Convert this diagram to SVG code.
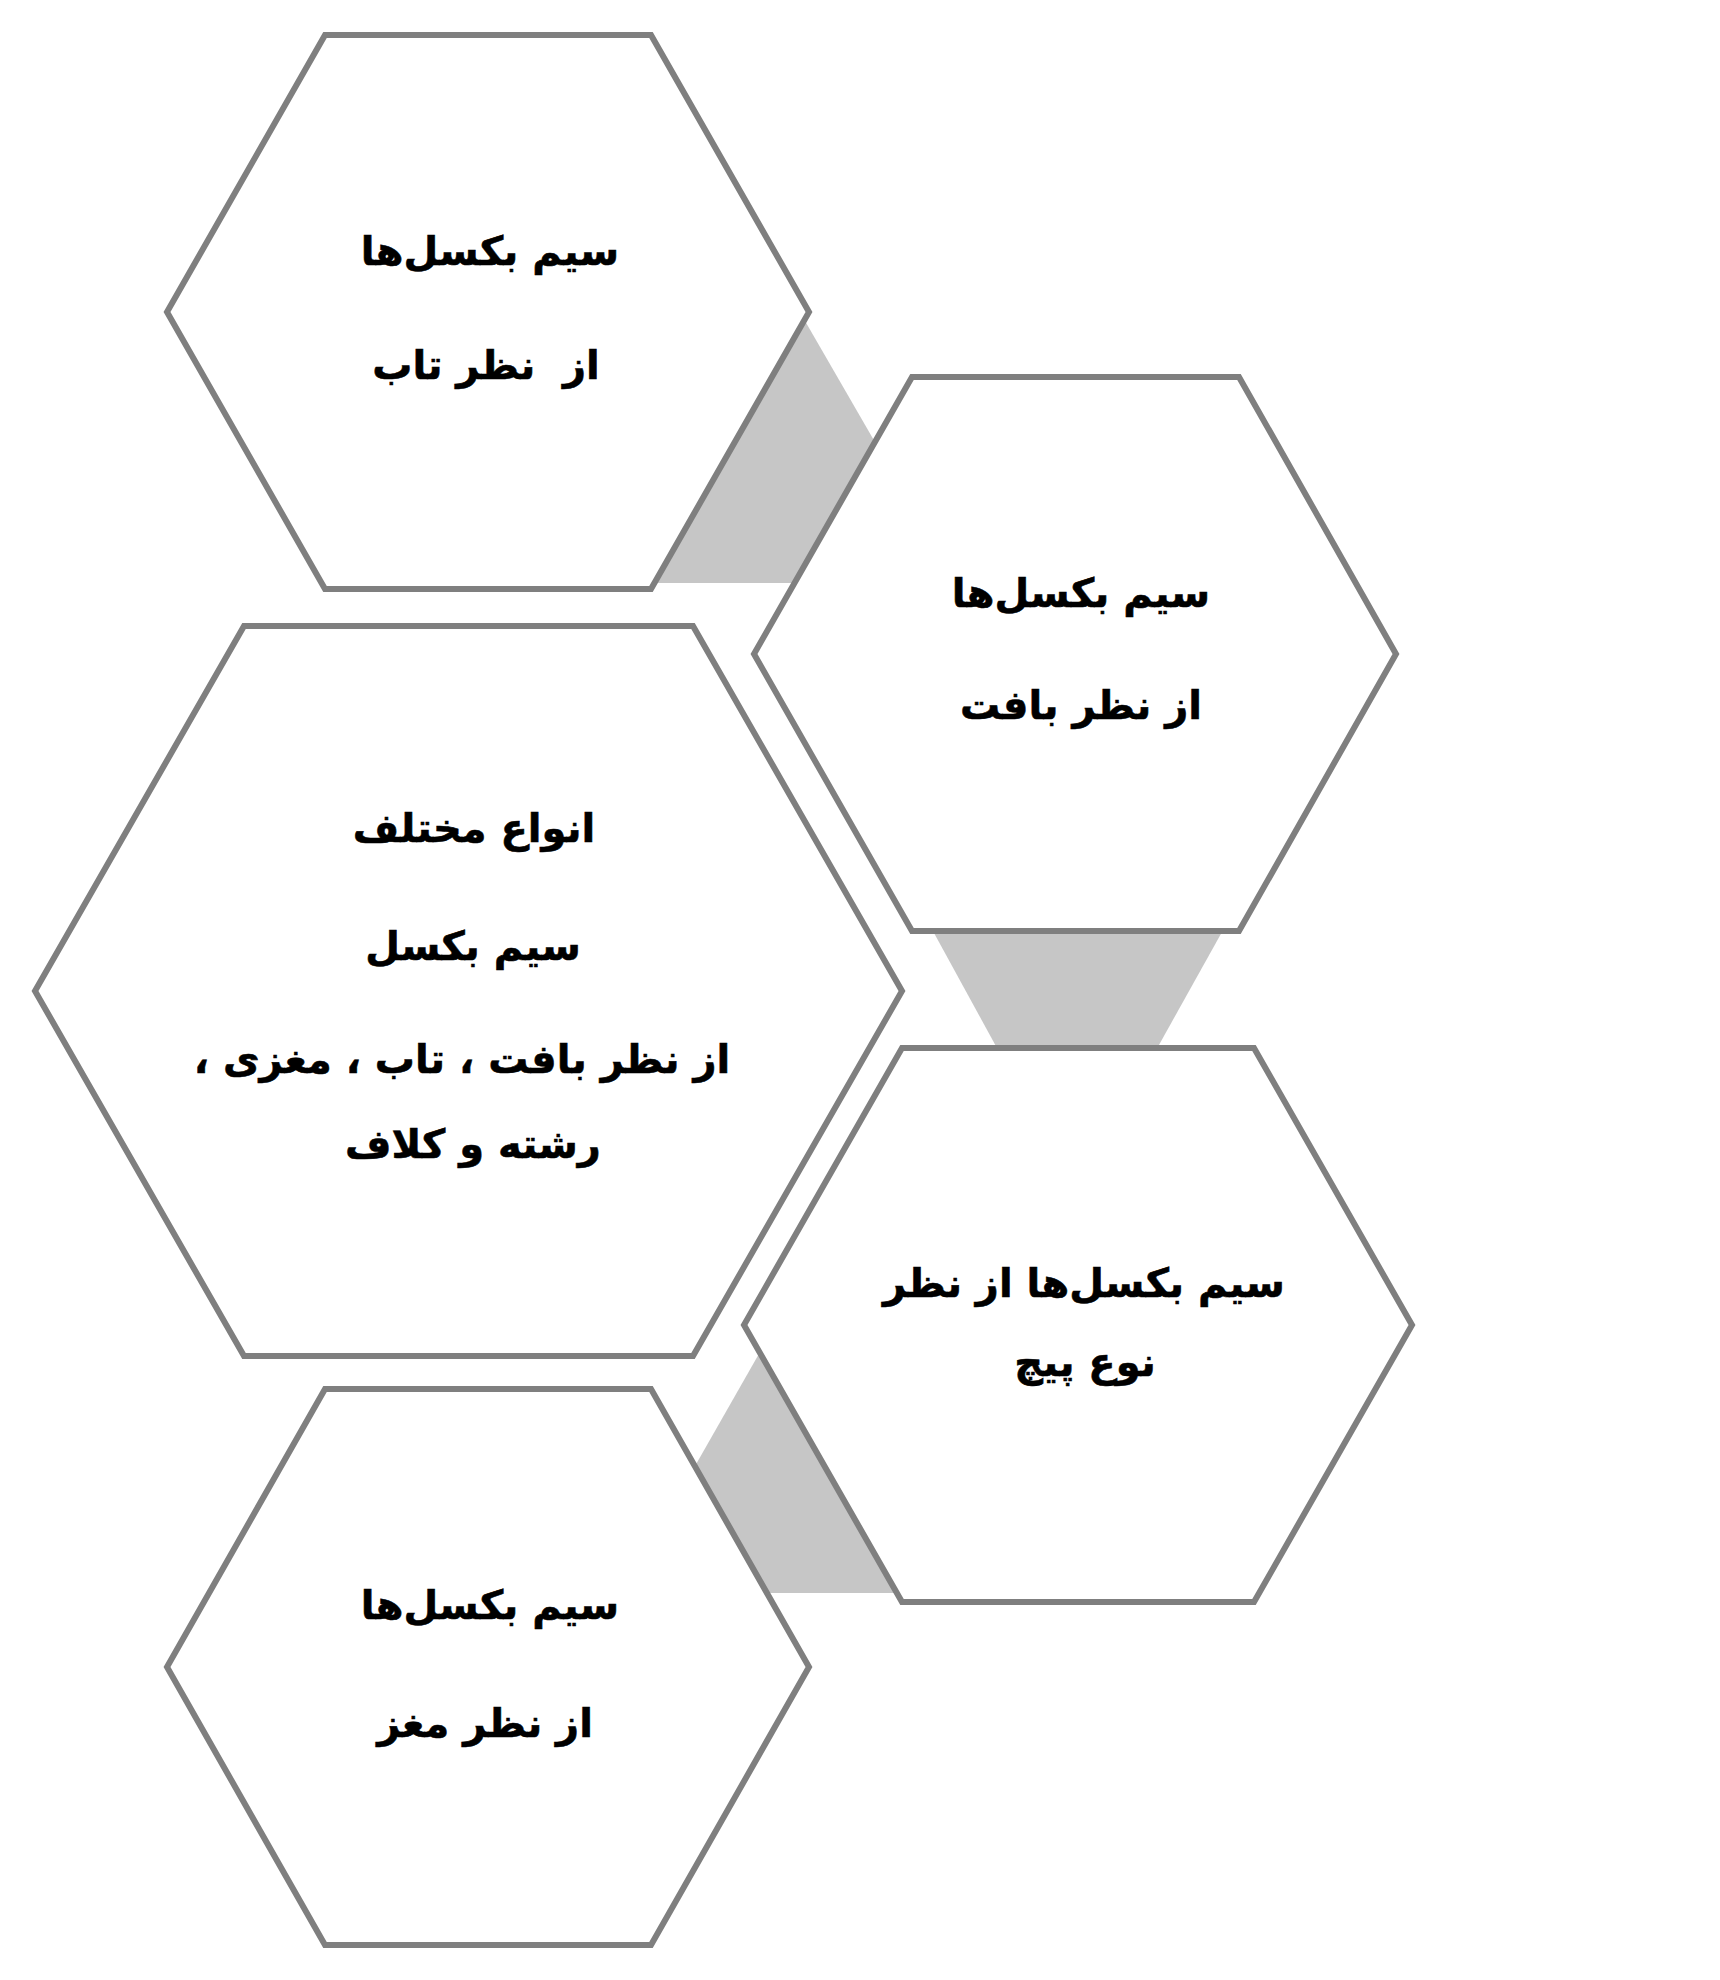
<svg xmlns="http://www.w3.org/2000/svg" width="1720" height="1980" viewBox="0 0 1720 1980">
<style>
.hex{fill:#ffffff;stroke:#7f7f7f;stroke-width:6;stroke-linejoin:miter}
.con{fill:#c6c6c6;stroke:none}
.t{font-family:"DejaVu Sans",sans-serif;font-weight:bold;font-size:40px;fill:#000000;stroke:#000000;stroke-width:0.6;text-anchor:middle;direction:rtl;white-space:pre}
</style>
<rect x="0" y="0" width="1720" height="1980" fill="#ffffff"/>
<g id="connectors">
<polygon class="con" points="790,295 935,546 935,583 640,583 640,400"/>
<polygon class="con" points="905,880 1251,880 1145,1070 1009,1070"/>
<polygon class="con" points="780,1317 650,1545 650,1593 920,1593 920,1340"/>
</g>
<g id="node-taab">
<polygon class="hex" points="167,312 325,35 651,35 809,312 651,589 325,589"/>
<text class="t" x="490" y="265">سیم بکسل‌ها</text>
<text class="t" x="486" y="379">از  نظر تاب</text>
</g>
<g id="node-baft">
<polygon class="hex" points="754,654 912,377 1239,377 1396,654 1239,931 912,931"/>
<text class="t" x="1081" y="607">سیم بکسل‌ها</text>
<text class="t" x="1081" y="719">از نظر بافت</text>
</g>
<g id="node-main">
<polygon class="hex" points="35,991 244,626 693,626 902,991 693,1356 244,1356"/>
<text class="t" x="474" y="842">انواع مختلف</text>
<text class="t" x="473" y="960">سیم بکسل</text>
<text class="t" x="462" y="1073">از نظر بافت ، تاب ، مغزی ،</text>
<text class="t" x="473" y="1158">رشته و کلاف</text>
</g>
<g id="node-pich">
<polygon class="hex" points="744,1325 902,1048 1254,1048 1412,1325 1254,1602 902,1602"/>
<text class="t" x="1084" y="1297">سیم بکسل‌ها از نظر</text>
<text class="t" x="1085" y="1376">نوع پیچ</text>
</g>
<g id="node-maghz">
<polygon class="hex" points="167,1667 325,1389 651,1389 809,1667 651,1945 325,1945"/>
<text class="t" x="490" y="1619">سیم بکسل‌ها</text>
<text class="t" x="485" y="1737">از نظر مغز</text>
</g>
</svg>
